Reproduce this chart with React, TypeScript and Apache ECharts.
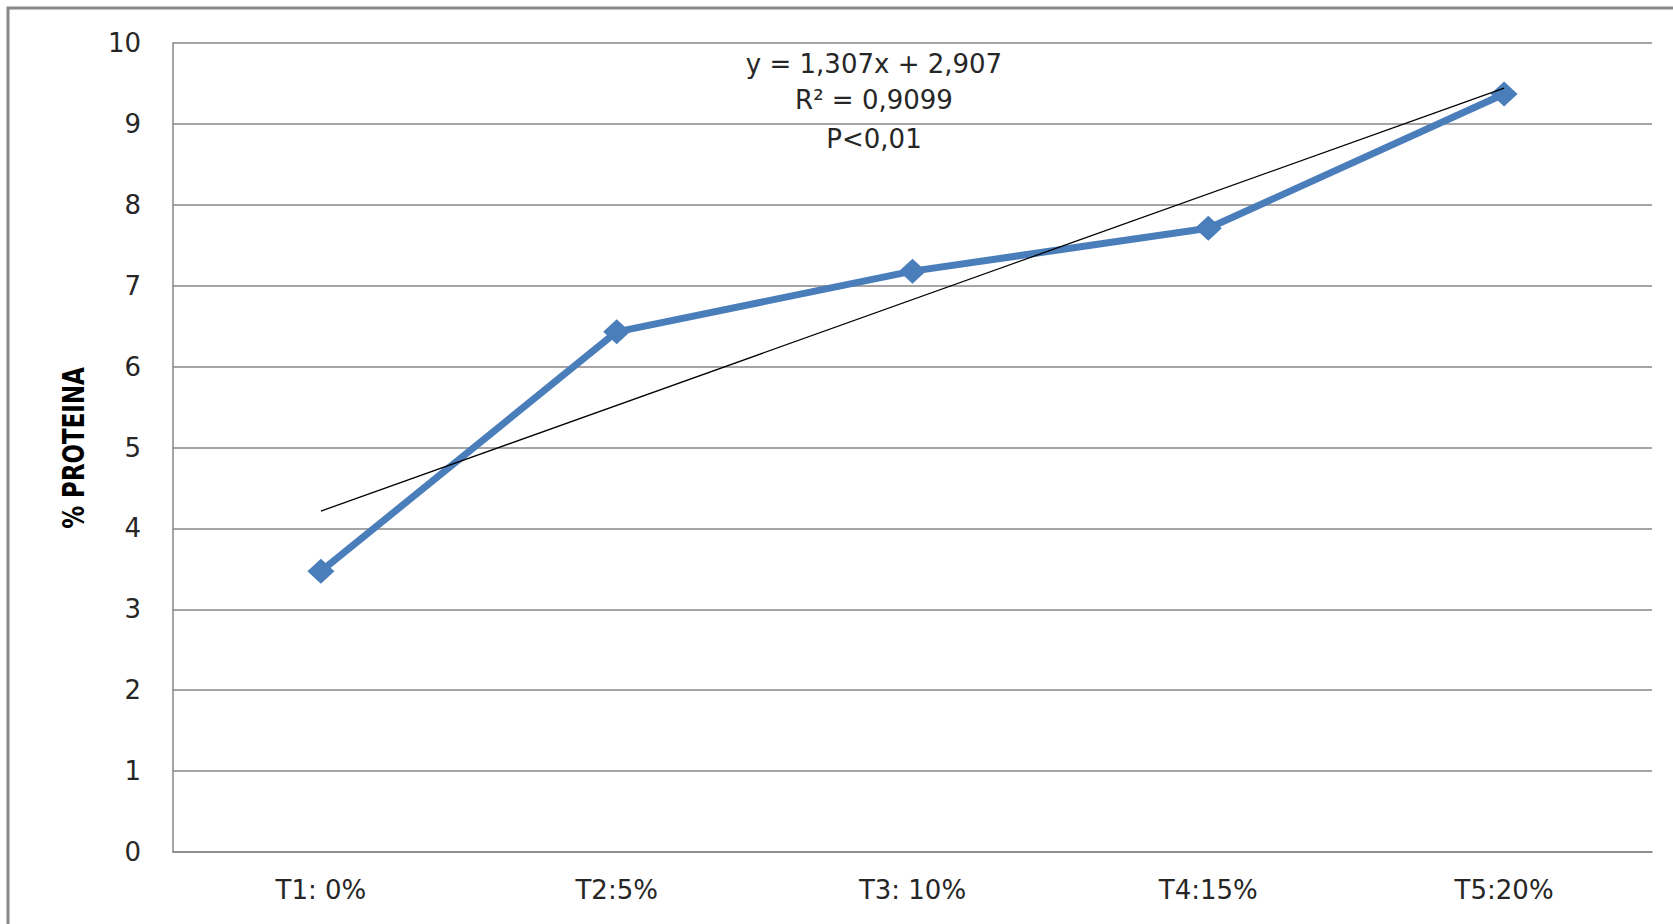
import React, { useEffect, useRef } from "react";
import * as echarts from "echarts";

const categories = ["T1: 0%", "T2:5%", "T3: 10%", "T4:15%", "T5:20%"];
const proteinValues = [3.47, 6.43, 7.18, 7.71, 9.37];
// trend line end points (first and last category), as drawn in the picture
const trendPoints: [number, number][] = [
  [0, 4.214],
  [4, 9.442],
];
const annotationLines = ["y = 1,307x + 2,907", "R² = 0,9099", "P<0,01"];
const yTicks = { min: 0, max: 10, interval: 1 };
const yTitle = "% PROTEINA";

export default function App() {
  const ref = useRef<HTMLDivElement>(null);
  useEffect(() => {
    if (!ref.current) return;
    const chart = echarts.init(ref.current, undefined, { renderer: "svg" });
    const font = "DejaVu Sans";
    const textColor = "#262626";
    const gridColor = "#878787";
    chart.setOption({
      animation: false,
      backgroundColor: "#ffffff",
      grid: { left: 173, top: 43, right: 21, bottom: 72, containLabel: false },
      xAxis: {
        type: "category",
        data: categories,
        boundaryGap: true,
        axisLine: { show: true, lineStyle: { color: gridColor, width: 1.5 } },
        axisTick: { show: false },
        axisLabel: { color: textColor, fontFamily: font, fontSize: 26, margin: 25 },
        splitLine: { show: false },
      },
      yAxis: {
        type: "value",
        min: yTicks.min,
        max: yTicks.max,
        interval: yTicks.interval,
        axisLine: { show: true, lineStyle: { color: gridColor, width: 1.5 } },
        axisTick: { show: false },
        axisLabel: { color: textColor, fontFamily: font, fontSize: 26, margin: 32 },
        splitLine: { show: true, lineStyle: { color: gridColor, width: 1.5 } },
      },
      series: [
        {
          type: "line",
          data: proteinValues,
          symbol: "diamond",
          symbolSize: [27, 25],
          itemStyle: { color: "#4A7EBB" },
          lineStyle: { color: "#4A7EBB", width: 7 },
          z: 2,
        },
        {
          type: "line",
          data: trendPoints,
          symbol: "none",
          lineStyle: { color: "#000000", width: 1.3 },
          z: 3,
        },
      ],
      graphic: [
        {
          type: "rect",
          shape: { x: 8, y: 8, width: 3000, height: 3000 },
          style: { fill: "none", stroke: "#878787", lineWidth: 3 },
          silent: true,
          z: 10,
        },
        {
          type: "text",
          x: 73,
          y: 448,
          rotation: Math.PI / 2,
          scaleX: 0.74,
          style: {
            text: yTitle,
            fill: "#000000",
            font: `bold 31px "${font}"`,
            textAlign: "center",
            textVerticalAlign: "middle",
          },
          z: 11,
        },
        ...annotationLines.map((t, i) => ({
          type: "text",
          x: 874,
          y: [64, 100, 139][i],
          style: {
            text: t,
            fill: textColor,
            font: `26px "${font}"`,
            textAlign: "center",
            textVerticalAlign: "middle",
          },
          z: 11,
        })),
      ],
    });
    return () => chart.dispose();
  }, []);
  return (
    <div
      ref={ref}
      style={{ position: "absolute", left: 0, top: 0, width: 1673, height: 924 }}
    />
  );
}
